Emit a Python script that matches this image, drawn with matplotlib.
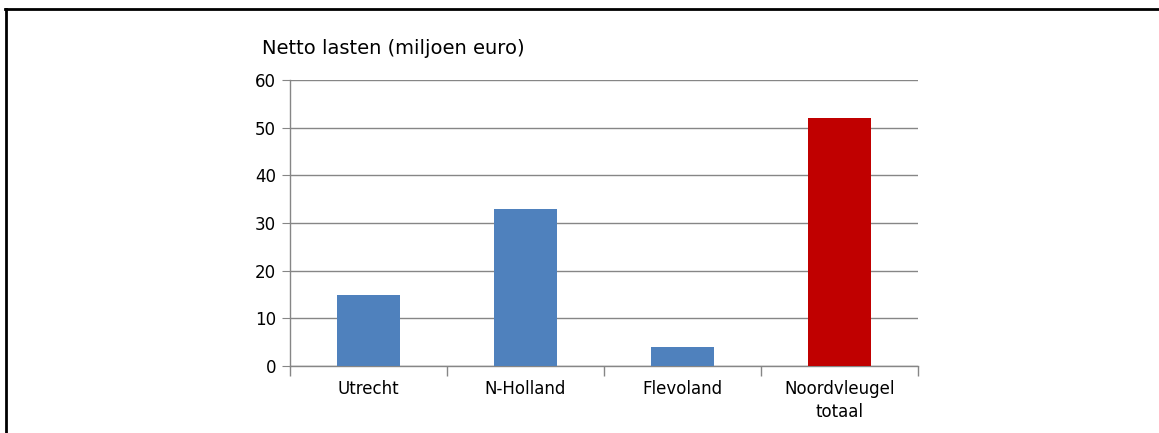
import matplotlib.pyplot as plt
from matplotlib.lines import Line2D

# data
categories = ["Utrecht", "N-Holland", "Flevoland", "Noordvleugel\ntotaal"]
values = [15, 33, 4, 52]
bar_colors = ["#4F81BD", "#4F81BD", "#4F81BD", "#C00000"]
yticks = [0, 10, 20, 30, 40, 50, 60]
title = "Netto lasten (miljoen euro)"

plt.rcParams['font.family'] = ['DejaVu Sans']

fig = plt.figure(figsize=(11.59, 4.33), dpi=100)
ax = fig.add_axes([290 / 1159, 1 - 366 / 433, (918 - 290) / 1159, (366 - 80) / 433])

x = list(range(len(categories)))
ax.bar(x, values, width=0.4, color=bar_colors, zorder=3)

ax.set_xlim(-0.5, len(categories) - 0.5)
ax.set_ylim(0, 60)
ax.set_yticks(yticks)
ax.set_xticks(x)
ax.set_xticklabels(categories, fontsize=12, linespacing=1.35)
ax.tick_params(axis='x', length=0, pad=10)
ax.tick_params(axis='y', length=6, color='#868686', labelsize=12, pad=4)
# category boundary ticks
ax.set_xticks([i - 0.5 for i in range(len(categories) + 1)], minor=True)
ax.tick_params(axis='x', which='minor', length=7, color='#868686', width=1)

ax.grid(axis='y', color='#868686', linewidth=1, zorder=0)
for s in ['top', 'right']:
    ax.spines[s].set_visible(False)
for s in ['left', 'bottom']:
    ax.spines[s].set_color('#868686')
    ax.spines[s].set_linewidth(1)

fig.text(262 / 1159, 1 - 48 / 433, title, fontsize=14, va='center', ha='left')

# surrounding frame (top and left edge)
fig.add_artist(Line2D([5 / 1159, 1], [1 - 9 / 433, 1 - 9 / 433], color='black', linewidth=2))
fig.add_artist(Line2D([6 / 1159, 6 / 1159], [0, 1 - 9 / 433], color='black', linewidth=2))

fig.savefig("out.png", dpi=100)
